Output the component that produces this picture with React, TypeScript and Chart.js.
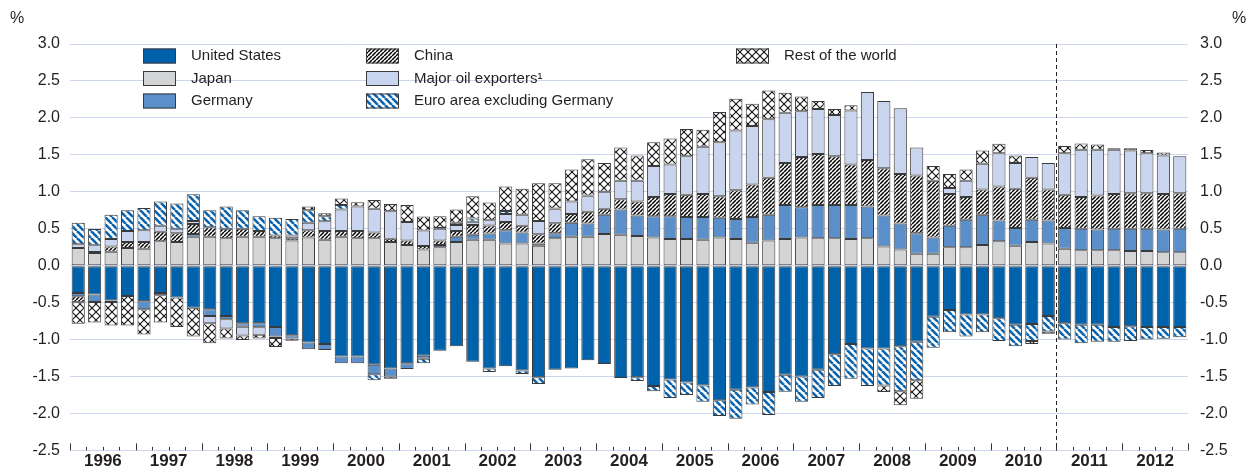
import React, { useEffect, useRef } from 'react';
import { Chart, registerables } from 'chart.js';

Chart.register(...registerables);

const YEARS = ['1996', '1997', '1998', '1999', '2000', '2001', '2002', '2003', '2004', '2005', '2006', '2007', '2008', '2009', '2010', '2011', '2012'];
const QUARTERS = YEARS.flatMap((y) => ['Q1', 'Q2', 'Q3', 'Q4'].map((q) => `${y} ${q}`));
const Y_TICKS = [3.0, 2.5, 2.0, 1.5, 1.0, 0.5, 0.0, -0.5, -1.0, -1.5, -2.0, -2.5];
const FORECAST_START = '2011 Q1';

const UNITED_STATES = [
  -0.37, -0.39, -0.47, -0.41, -0.48, -0.37, -0.43, -0.57, -0.59, -0.68, -0.78, -0.78,
  -0.83, -0.94, -1.04, -1.06, -1.23, -1.23, -1.34, -1.39, -1.32, -1.22, -1.15, -1.09,
  -1.30, -1.39, -1.36, -1.42, -1.51, -1.41, -1.39, -1.28, -1.33, -1.52, -1.51, -1.63,
  -1.54, -1.58, -1.62, -1.82, -1.68, -1.65, -1.71, -1.475, -1.50, -1.41, -1.20, -1.06,
  -1.12, -1.12, -1.09, -1.03, -0.69, -0.60, -0.66, -0.66, -0.71, -0.80, -0.79, -0.68,
  -0.78, -0.80, -0.80, -0.83, -0.82, -0.83, -0.83, -0.83,
];
const JAPAN = [
  0.24, 0.17, 0.19, 0.24, 0.23, 0.33, 0.32, 0.39, 0.39, 0.37, 0.39, 0.39,
  0.37, 0.34, 0.38, 0.35, 0.39, 0.37, 0.37, 0.32, 0.28, 0.22, 0.25, 0.32,
  0.35, 0.35, 0.30, 0.30, 0.27, 0.37, 0.39, 0.39, 0.43, 0.42, 0.40, 0.38,
  0.36, 0.36, 0.35, 0.38, 0.36, 0.31, 0.34, 0.36, 0.38, 0.37, 0.37, 0.36,
  0.37, 0.26, 0.22, 0.16, 0.16, 0.25, 0.25, 0.28, 0.33, 0.27, 0.32, 0.30,
  0.23, 0.21, 0.21, 0.21, 0.20, 0.20, 0.18, 0.18,
];
const GERMANY = [
  -0.045, -0.10, -0.02, 0, -0.11, -0.03, 0, 0.04, -0.09, -0.045, -0.045, -0.055,
  -0.13, -0.045, -0.09, -0.08, -0.09, -0.09, -0.13, -0.11, -0.08, -0.04, 0.03, 0.07,
  0.07, 0.085, 0.18, 0.15, 0.03, 0.07, 0.19, 0.18, 0.26, 0.34, 0.28, 0.29,
  0.31, 0.30, 0.31, 0.27, 0.27, 0.35, 0.35, 0.46, 0.41, 0.45, 0.45, 0.46,
  0.43, 0.42, 0.35, 0.28, 0.22, 0.29, 0.37, 0.41, 0.28, 0.24, 0.30, 0.31,
  0.28, 0.29, 0.28, 0.29, 0.30, 0.30, 0.31, 0.32,
];
const CHINA = [
  -0.08, 0.015, 0.07, 0.08, 0.09, 0.13, 0.12, 0.135, 0.13, 0.13, 0.11, 0.08,
  0.04, 0.03, 0.10, 0.12, 0.08, 0.10, 0.08, 0.045, 0.06, 0.045, 0.06, 0.08,
  0.13, 0.11, 0.11, 0.09, 0.125, 0.135, 0.12, 0.16, 0.08, 0.14, 0.19, 0.26,
  0.30, 0.30, 0.31, 0.29, 0.39, 0.44, 0.50, 0.57, 0.68, 0.69, 0.66, 0.55,
  0.63, 0.64, 0.67, 0.78, 0.77, 0.43, 0.31, 0.34, 0.46, 0.53, 0.57, 0.42,
  0.45, 0.43, 0.46, 0.47, 0.48, 0.48, 0.48, 0.48,
];
const OIL_EXPORTERS = [
  0.05, 0.09, 0.10, 0.15, 0.16, 0.08, 0.06, 0.04, -0.10, -0.125, -0.12, -0.10,
  -0.02, 0.04, 0.10, 0.13, 0.29, 0.33, 0.32, 0.37, 0.25, 0.21, 0.16, 0.08,
  0.045, 0.07, 0.11, 0.15, 0.18, 0.19, 0.17, 0.21, 0.23, 0.25, 0.28, 0.42,
  0.40, 0.52, 0.64, 0.73, 0.81, 0.79, 0.79, 0.68, 0.62, 0.61, 0.56, 0.73,
  0.92, 0.91, 0.89, 0.38, 0, 0.08, 0.22, 0.35, 0.45, 0.35, 0.28, 0.36,
  0.56, 0.64, 0.62, 0.60, 0.58, 0.54, 0.52, 0.50,
];
const EURO_EX_GERMANY = [
  0.29, 0.22, 0.33, 0.28, 0.30, 0.33, 0.34, 0.36, 0.23, 0.30, 0.25, 0.20,
  0.24, 0.22, 0.17, 0.07, 0.06, 0, -0.08, -0.03, 0, -0.06, 0.01, 0.03,
  0.045, -0.05, 0.04, -0.045, -0.09, 0.01, 0, 0.01, 0, 0, -0.05, -0.07,
  -0.25, -0.17, -0.22, -0.215, -0.39, -0.23, -0.31, -0.23, -0.34, -0.38, -0.43, -0.47,
  -0.51, -0.50, -0.61, -0.52, -0.42, -0.30, -0.30, -0.24, -0.31, -0.29, -0.23, -0.21,
  -0.22, -0.25, -0.23, -0.20, -0.20, -0.17, -0.16, -0.14,
];
const REST_OF_WORLD = [
  -0.29, -0.28, -0.32, -0.40, -0.34, -0.37, -0.40, -0.39, -0.27, -0.135, -0.06, -0.05,
  -0.12, -0.03, 0.05, 0.04, 0.09, 0.06, 0.12, 0.10, 0.23, 0.19, 0.16, 0.18,
  0.30, 0.24, 0.33, 0.35, 0.51, 0.34, 0.43, 0.49, 0.39, 0.45, 0.34, 0.32,
  0.35, 0.37, 0.23, 0.41, 0.43, 0.30, 0.39, 0.27, 0.20, 0.11, 0.08, 0.07,
  0, -0.09, -0.19, -0.25, 0.20, 0.19, 0.15, 0.18, 0.13, 0.10, -0.04, -0.03,
  0.10, 0.085, 0.07, 0.02, 0.03, 0.045, 0.04, 0,
];

const FONT = '"Liberation Sans", Arial, Helvetica, sans-serif';
const TEXT = '#231f20';
const AXIS_W = 70;
const CANVAS_W = 1258;
const PITCH = (CANVAS_W - 2 * AXIS_W) / QUARTERS.length;

function makePattern(size: number, bg: string, draw: (g: CanvasRenderingContext2D, s: number) => void) {
  const c = document.createElement('canvas');
  c.width = size;
  c.height = size;
  const g = c.getContext('2d') as CanvasRenderingContext2D;
  g.fillStyle = bg;
  g.fillRect(0, 0, size, size);
  draw(g, size);
  return g.createPattern(c, 'repeat') as CanvasPattern;
}

export default function App() {
  const ref = useRef<HTMLCanvasElement | null>(null);

  useEffect(() => {
    const canvas = ref.current;
    if (!canvas) return;

    const chinaPat = makePattern(4, '#ffffff', (g, s) => {
      g.strokeStyle = '#000000';
      g.lineWidth = 1.5;
      for (const o of [-s, 0, s]) {
        g.beginPath();
        g.moveTo(o, s);
        g.lineTo(o + s, 0);
        g.stroke();
      }
    });
    const euroPat = makePattern(7, '#ffffff', (g, s) => {
      g.strokeStyle = '#0b63ac';
      g.lineWidth = 2.6;
      for (const o of [-s, 0, s]) {
        g.beginPath();
        g.moveTo(o, 0);
        g.lineTo(o + s, s);
        g.stroke();
      }
    });
    const rowPat = makePattern(8, '#ffffff', (g, s) => {
      g.strokeStyle = '#111111';
      g.lineWidth = 1.1;
      for (const o of [-s, 0, s]) {
        g.beginPath();
        g.moveTo(o, 0);
        g.lineTo(o + s, s);
        g.stroke();
        g.beginPath();
        g.moveTo(o, s);
        g.lineTo(o + s, 0);
        g.stroke();
      }
    });

    const series = [
      { label: 'United States', data: UNITED_STATES, bg: '#0062aa' as any },
      { label: 'Japan', data: JAPAN, bg: '#d3d4d6' as any },
      { label: 'Germany', data: GERMANY, bg: '#5b8fca' as any },
      { label: 'China', data: CHINA, bg: chinaPat as any },
      { label: 'Major oil exporters\u00b9', data: OIL_EXPORTERS, bg: '#c9d4ee' as any },
      { label: 'Euro area excluding Germany', data: EURO_EX_GERMANY, bg: euroPat as any },
      { label: 'Rest of the world', data: REST_OF_WORLD, bg: rowPat as any },
    ];

    const legendPos: Array<[number, number]> = [
      [0, 0], [0, 1], [0, 2], [1, 0], [1, 1], [1, 2], [2, 0],
    ];
    const colBoxX = [143, 366, 736];
    const rowY = [56, 78.5, 101];

    const decor = {
      id: 'decor',
      afterDatasetsDraw(chart: any) {
        const ctx = chart.ctx as CanvasRenderingContext2D;
        const xs = chart.scales.x;
        const area = chart.chartArea;
        const n = QUARTERS.length;
        const pitch = (area.right - area.left) / n;
        ctx.save();
        ctx.strokeStyle = '#333';
        ctx.lineWidth = 1;
        for (let k = 0; k <= n; k++) {
          const x = Math.round(area.left + k * pitch) + 0.5;
          const len = k % 4 === 0 ? 7 : 3.5;
          ctx.beginPath();
          ctx.moveTo(x, area.bottom);
          ctx.lineTo(x, area.bottom - len);
          ctx.stroke();
        }
        const idx = QUARTERS.indexOf(FORECAST_START);
        const xd = Math.round(xs.getPixelForValue(idx) - pitch / 2) + 0.5;
        ctx.setLineDash([4, 3]);
        ctx.strokeStyle = '#222';
        ctx.beginPath();
        ctx.moveTo(xd, area.top);
        ctx.lineTo(xd, area.bottom);
        ctx.stroke();
        ctx.restore();
      },
      afterDraw(chart: any) {
        const ctx = chart.ctx as CanvasRenderingContext2D;
        ctx.save();
        ctx.font = `15px ${FONT}`;
        ctx.textBaseline = 'middle';
        ctx.textAlign = 'left';
        chart.data.datasets.forEach((ds: any, i: number) => {
          const [c, r] = legendPos[i];
          const bx = colBoxX[c];
          const by = rowY[r] - 7.5;
          ctx.fillStyle = ds.backgroundColor;
          ctx.fillRect(bx, by, 33, 15);
          ctx.strokeStyle = '#3a3a3a';
          ctx.lineWidth = 1;
          ctx.strokeRect(bx + 0.5, by + 0.5, 32, 14);
          ctx.fillStyle = TEXT;
          ctx.fillText(ds.label, bx + 48, rowY[r]);
        });
        ctx.font = `16px ${FONT}`;
        ctx.fillStyle = TEXT;
        ctx.fillText('%', 10, 19);
        ctx.fillText('%', 1232, 19);
        ctx.restore();
      },
    };

    const chart = new Chart(canvas, {
      type: 'bar',
      data: {
        labels: QUARTERS,
        datasets: series.map((s) => ({
          label: s.label,
          data: s.data,
          backgroundColor: s.bg,
          borderColor: '#3a3a3a',
          borderWidth: 1,
          borderSkipped: false,
          barPercentage: 0.8,
          categoryPercentage: 1,
        })),
      },
      options: {
        responsive: false,
        animation: false,
        devicePixelRatio: 1,
        layout: { padding: { top: 44, left: 0, right: 0, bottom: 0 } },
        plugins: { legend: { display: false }, tooltip: { enabled: false } },
        font: { family: FONT },
        scales: {
          x: {
            stacked: true,
            position: 'bottom',
            grid: { display: false, drawTicks: false },
            border: { display: false },
            afterFit: (axis: any) => {
              axis.height = 19;
            },
            ticks: {
              autoSkip: false,
              maxRotation: 0,
              minRotation: 0,
              padding: 1,
              labelOffset: PITCH / 2,
              color: TEXT,
              font: { family: FONT, size: 17, weight: 'bold' },
              callback: (_v: any, i: number) => (i % 4 === 1 ? YEARS[Math.floor(i / 4)] : ''),
            },
          },
          y: {
            stacked: true,
            position: 'left',
            min: -2.5,
            max: 3.0,
            afterBuildTicks: (axis: any) => {
              axis.ticks = Y_TICKS.map((v) => ({ value: v }));
            },
            afterFit: (axis: any) => {
              axis.width = AXIS_W;
            },
            grid: { color: '#ccd6ee', lineWidth: 1, drawTicks: false },
            border: { display: false },
            ticks: {
              padding: 10,
              color: TEXT,
              font: { family: FONT, size: 16 },
              callback: (v: any) => Number(v).toFixed(1),
            },
          },
          y2: {
            position: 'right',
            min: -2.5,
            max: 3.0,
            afterBuildTicks: (axis: any) => {
              axis.ticks = Y_TICKS.map((v) => ({ value: v }));
            },
            afterFit: (axis: any) => {
              axis.width = AXIS_W;
            },
            grid: { display: false, drawTicks: false },
            border: { display: false },
            ticks: {
              padding: 12,
              color: TEXT,
              font: { family: FONT, size: 16 },
              callback: (v: any) => Number(v).toFixed(1),
            },
          },
        },
      } as any,
      plugins: [decor],
    });

    return () => chart.destroy();
  }, []);

  return (
    <div style={{ position: 'absolute', left: 0, top: 0, width: CANVAS_W, height: 472, background: '#fff' }}>
      <canvas ref={ref} width={CANVAS_W} height={472} style={{ display: 'block', width: CANVAS_W, height: 472 }} />
    </div>
  );
}
